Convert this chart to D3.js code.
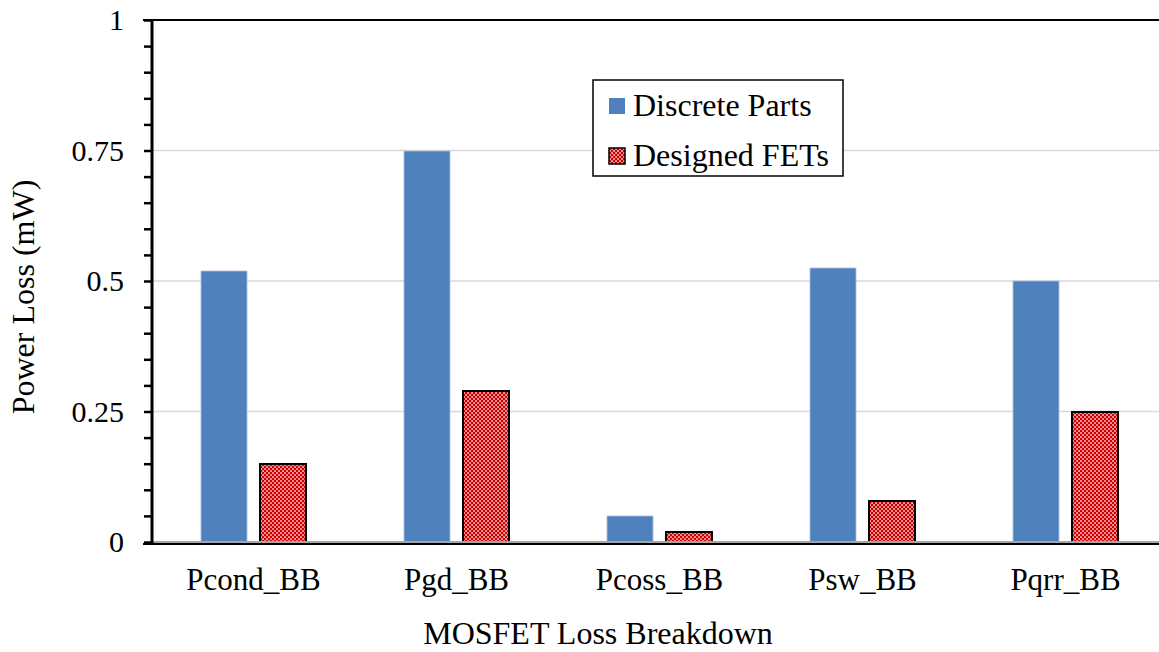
<!DOCTYPE html>
<html>
<head>
<meta charset="utf-8">
<script src="https://cdn.jsdelivr.net/npm/d3@7"></script>
<style>
  body { margin: 0; background: #fff; }
</style>
</head>
<body>
<div id="okvir"></div>
<script>
// podaci
const kategorije = ["Pcond_BB", "Pgd_BB", "Pcoss_BB", "Psw_BB", "Pqrr_BB"]
const serije = ["Discrete Parts", "Designed FETs"]
const diskretni = [0.52, 0.75, 0.05, 0.525, 0.5]
const dizajnirani = [0.15, 0.29, 0.02, 0.078, 0.25]
const yTickovi = [0, 0.25, 0.5, 0.75, 1]
const yTickOznake = ["0", "0.25", "0.5", "0.75", "1"]

const podaci = kategorije.map((k, i) => ({ kategorija: k, vrijednosti: [diskretni[i], dizajnirani[i]] }))

const dim = { sirina: 1159, visina: 652, lijevo: 152, desno: 1167, gore: 20, dolje: 542 }
const font = "'Liberation Serif', 'DejaVu Serif', serif"

const svg = d3.select("#okvir").append("svg")
    .attr("width", dim.sirina)
    .attr("height", dim.visina)
    .attr("font-family", font)

// uzorak za crvene stupce
const defs = svg.append("defs")
const uzorak = defs.append("pattern")
    .attr("id", "sah")
    .attr("patternUnits", "userSpaceOnUse")
    .attr("width", 4).attr("height", 4)
uzorak.append("rect").attr("width", 4).attr("height", 4).attr("fill", "#cc0000")
uzorak.append("rect").attr("x", 0.3).attr("y", 0.3).attr("width", 1.5).attr("height", 1.5).attr("fill", "#fff")
uzorak.append("rect").attr("x", 2.3).attr("y", 2.3).attr("width", 1.5).attr("height", 1.5).attr("fill", "#fff")

// skale
const xSkala = d3.scaleBand()
    .domain(kategorije)
    .range([dim.lijevo, dim.desno])

const xUnutra = d3.scaleBand()
    .domain(d3.range(serije.length))
    .range([0, xSkala.bandwidth()])
    .paddingInner(0.207)
    .paddingOuter(0.845)

const ySkala = d3.scaleLinear()
    .domain([0, 1])
    .range([dim.dolje, dim.gore])

// mreza
svg.append("g")
  .selectAll("line")
  .data(yTickovi.filter(t => t > 0 && t < 1))
  .join("line")
    .attr("x1", dim.lijevo).attr("x2", dim.sirina)
    .attr("y1", d => ySkala(d)).attr("y2", d => ySkala(d))
    .attr("stroke", "#d9d9d9").attr("stroke-width", 1.5)

// stupci
const grupe = svg.append("g")
  .selectAll("g")
  .data(podaci)
  .join("g")
    .attr("transform", d => `translate(${Math.round(xSkala(d.kategorija))},0)`)

grupe.selectAll("rect")
  .data(d => d.vrijednosti.map((v, i) => ({ v, i })))
  .join("rect")
    .attr("x", d => Math.round(xUnutra(d.i)))
    .attr("y", d => Math.round(ySkala(d.v)))
    .attr("width", Math.round(xUnutra.bandwidth()))
    .attr("height", d => Math.round(ySkala(0)) - Math.round(ySkala(d.v)))
    .attr("fill", d => d.i === 0 ? "#4f81bd" : "url(#sah)")
    .attr("stroke", d => d.i === 0 ? "#a9c1e0" : "#000")
    .attr("stroke-width", d => d.i === 0 ? 0.8 : 2)

// osnovna linija
svg.append("line")
    .attr("x1", dim.lijevo).attr("x2", dim.sirina)
    .attr("y1", ySkala(0)).attr("y2", ySkala(0))
    .attr("stroke", "#a6a6a6").attr("stroke-width", 2)
svg.append("line")
    .attr("x1", dim.lijevo - 9).attr("x2", dim.sirina)
    .attr("y1", ySkala(0) + 2).attr("y2", ySkala(0) + 2)
    .attr("stroke", "#000").attr("stroke-width", 2)
svg.append("line")
    .attr("x1", dim.lijevo - 9).attr("x2", dim.sirina)
    .attr("y1", ySkala(1)).attr("y2", ySkala(1))
    .attr("stroke", "#000").attr("stroke-width", 2)

// y os
const yOs = svg.append("g")
    .attr("transform", `translate(${dim.lijevo},0)`)
    .call(d3.axisLeft(ySkala).tickValues(d3.range(0, 1.0001, 0.05)).tickSize(8).tickFormat(""))
yOs.select(".domain").attr("stroke-width", 3).attr("d", `M0,${dim.gore}V${dim.dolje + 3}`)
yOs.selectAll(".tick line").attr("stroke-width", 2.5)

svg.append("g")
  .selectAll("text")
  .data(yTickovi)
  .join("text")
    .attr("x", 124)
    .attr("y", d => ySkala(d))
    .attr("dy", "0.34em")
    .attr("text-anchor", "end")
    .attr("font-size", 30)
    .text((d, i) => yTickOznake[i])

// x oznake
svg.append("g")
  .selectAll("text")
  .data(kategorije)
  .join("text")
    .attr("x", d => xSkala(d) + xSkala.bandwidth() / 2)
    .attr("y", 590)
    .attr("text-anchor", "middle")
    .attr("font-size", 31)
    .text(d => d)

// naslovi osi
svg.append("text")
    .attr("x", 598).attr("y", 644)
    .attr("text-anchor", "middle")
    .attr("font-size", 32)
    .text("MOSFET Loss Breakdown")

svg.append("text")
    .attr("transform", "translate(34,297) rotate(-90)")
    .attr("text-anchor", "middle")
    .attr("font-size", 32)
    .text("Power Loss (mW)")

// legenda
const legenda = svg.append("g").attr("transform", "translate(593,80)")
legenda.append("rect")
    .attr("width", 250).attr("height", 96)
    .attr("fill", "#fff").attr("stroke", "#000").attr("stroke-width", 1.5)
const stavke = legenda.selectAll(".stavka")
  .data(serije)
  .join("g")
    .attr("class", "stavka")
    .attr("transform", (d, i) => `translate(0,${i * 50})`)
stavke.append("rect")
    .attr("x", 16).attr("y", 18)
    .attr("width", 16).attr("height", 16)
    .attr("fill", (d, i) => i === 0 ? "#4f81bd" : "url(#sah)")
    .attr("stroke", (d, i) => i === 0 ? "none" : "#000")
    .attr("stroke-width", 1.5)
stavke.append("text")
    .attr("x", 40).attr("y", 36)
    .attr("font-size", 32)
    .text(d => d)
</script>
</body>
</html>
